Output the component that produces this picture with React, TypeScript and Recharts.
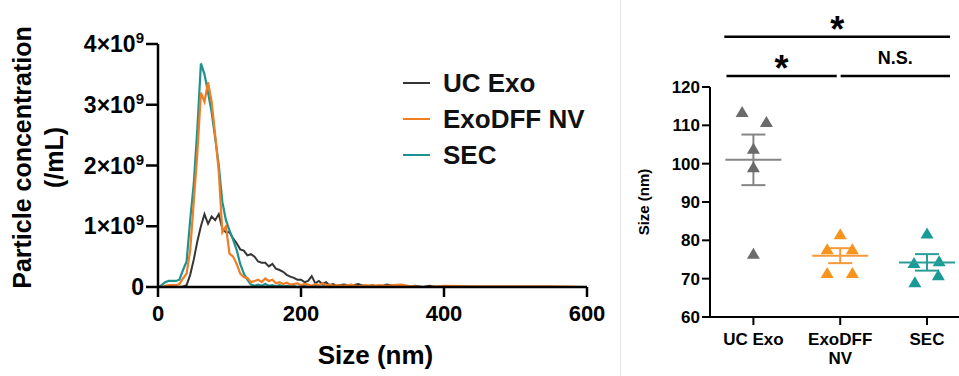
import React from 'react';
import {
  LineChart, Line, XAxis, YAxis, Legend,
  ScatterChart, Scatter, ErrorBar, ReferenceLine,
} from 'recharts';

// ---------- Left panel: NTA size distribution (values in 10^9 particles/mL) ----------
const sizes = [
  0, 5, 10, 15, 20, 25, 30, 35, 40, 45, 50, 55, 60, 65, 70, 75, 80, 85, 90, 95,
  100, 105, 110, 115, 120, 125, 130, 135, 140, 145, 150, 155, 160, 165, 170, 175, 180, 185, 190, 195,
  200, 205, 210, 215, 220, 225, 230, 235, 240, 245, 250,
  260, 270, 280, 290, 300, 310, 320, 330, 340, 350, 360, 370, 380, 390, 400,
  450, 500, 550, 600,
];
const ucExo = [
  0, 0, 0, 0, 0, 0, 0, 0.01, 0.03, 0.2, 0.45, 0.75, 1.0, 1.2, 1.04, 1.16, 1.1, 1.2, 0.96, 0.9,
  0.9, 0.8, 0.72, 0.62, 0.6, 0.52, 0.54, 0.5, 0.42, 0.4, 0.4, 0.34, 0.38, 0.3, 0.28, 0.25, 0.2, 0.17, 0.15, 0.12,
  0.12, 0.08, 0.1, 0.18, 0.06, 0.1, 0.05, 0.08, 0.03, 0.05, 0.02,
  0.04, 0.02, 0.05, 0.01, 0.03, 0.0, 0.04, 0.02, 0.03, 0.01, 0.02, 0.0, 0.02, 0, 0,
  0, 0, 0, 0,
];
const exoDffNv = [
  0, 0, 0.02, 0.03, 0.03, 0.03, 0.05, 0.14, 0.22, 0.6, 1.4, 2.2, 3.2, 3.05, 3.37, 3.05, 2.5, 1.9, 0.9, 1.0,
  0.55, 0.5, 0.38, 0.22, 0.16, 0.15, 0.08, 0.1, 0.12, 0.08, 0.14, 0.1, 0.12, 0.06, 0.08, 0.05, 0.07, 0.04, 0.05, 0.06,
  0.03, 0.05, 0.04, 0.02, 0.05, 0.03, 0.06, 0.03, 0.04, 0.02, 0.03,
  0.02, 0.04, 0.01, 0.03, 0.02, 0.03, 0.02, 0.03, 0.04, 0.02, 0.01, 0, 0, 0.01, 0.02,
  0.01, 0.01, 0.01, 0,
];
const secVals = [
  0, 0.03, 0.08, 0.1, 0.1, 0.1, 0.12, 0.28, 0.42, 1.1, 1.7, 2.6, 3.68, 3.5, 3.2, 2.88, 2.45, 2.0, 1.4, 1.1,
  0.93, 0.78, 0.61, 0.38, 0.22, 0.12, 0.04, 0.02, 0.04, 0.02, 0.05, 0.02, 0.03, 0.01, 0.03, 0.01, 0.02, 0.01, 0.02, 0,
  0.01, 0.02, 0, 0.01, 0.02, 0, 0.01, 0.02, 0, 0.01, 0,
  0.01, 0, 0.01, 0, 0.01, 0, 0.01, 0.02, 0.01, 0, 0, 0, 0, 0, 0,
  0, 0, 0, 0,
];
const xTicks = [0, 200, 400, 600];
const yTicks = [0, 1, 2, 3, 4];

const seriesNames = ['UC Exo', 'ExoDFF NV', 'SEC'];
const lineColors = ['#353535', '#ee7d24', '#1f918e'];

const distRows = sizes.map((s, i) => ({ size: s, uc: ucExo[i], dff: exoDffNv[i], sec: secVals[i] }));

// ---------- Right panel: mean size (nm) ----------
const groupLabels = [['UC Exo'], ['ExoDFF', 'NV'], ['SEC']];
const ucSizes = [113.6, 111.0, 104.0, 99.2, 76.6];
const ucJitter = [-0.13, 0.15, 0, 0, 0];
const dffSizes = [81.7, 77.8, 77.8, 71.6, 71.6];
const dffJitter = [0, -0.15, 0.14, -0.15, 0.14];
const secSizes = [81.9, 74.2, 74.7, 69.2, 71.0];
const secJitter = [0, -0.15, 0.14, -0.14, 0.13];
const means = [101.0, 76.0, 74.25];
const sems = [6.6, 1.95, 2.15];
const sizeTicks = [60, 70, 80, 90, 100, 110, 120];
const pointColors = ['#6b6b6b', '#f7941d', '#1a9a96'];
const meanColors = ['#858585', '#f59a3a', '#2a9d98'];

const sigBars = [
  { x1: -0.335, x2: 2.265, y: 133.1, text: '*' },
  { x1: -0.31, x2: 0.96, y: 122.9, text: '*' },
  { x1: 1.005, x2: 2.265, y: 122.9, text: 'N.S.' },
];

const FONT = '"Liberation Sans", Arial, Helvetica, sans-serif';

const SciTick = (props: any) => {
  const { x, y, payload } = props;
  const v = payload.value;
  if (v === 0) {
    return (
      <text x={x} y={y + 8} textAnchor="end" fontSize={23} fontWeight={700} fill="#000" fontFamily={FONT}>0</text>
    );
  }
  return (
    <text x={x} y={y + 8} textAnchor="end" fontSize={23} fontWeight={700} fill="#000" fontFamily={FONT}>
      <tspan>{v}×10</tspan>
      <tspan dy={-9} fontSize={15}>9</tspan>
    </text>
  );
};

const SizeTick = (props: any) => {
  const { x, y, payload } = props;
  return (
    <text x={x} y={y + 19} textAnchor="middle" fontSize={22} fontWeight={700} fill="#000" fontFamily={FONT}>
      {payload.value}
    </text>
  );
};

const NmTick = (props: any) => {
  const { x, y, payload } = props;
  return (
    <text x={x} y={y + 6} textAnchor="end" fontSize={17} fontWeight={700} fill="#000" fontFamily={FONT}>
      {payload.value}
    </text>
  );
};

const LeftYTitle = (props: any) => {
  const vb = props.viewBox || { y: 44, height: 243 };
  const cy = vb.y + vb.height / 2 - 8;
  return (
    <g fontFamily={FONT} fontWeight={700} fill="#000">
      <text transform={`translate(22,${cy}) rotate(-90)`} textAnchor="middle" dominantBaseline="central" fontSize={25}>
        Particle concentration
      </text>
      <text transform={`translate(54,${cy}) rotate(-90)`} textAnchor="middle" dominantBaseline="central" fontSize={25}>
        (/mL)
      </text>
    </g>
  );
};

const LeftXTitle = (props: any) => {
  const vb = props.viewBox || { x: 158, y: 287, width: 429 };
  return (
    <text x={vb.x + vb.width / 2 + 3} y={vb.y + 68} textAnchor="middle" dominantBaseline="central"
      fontSize={26} fontWeight={700} fill="#000" fontFamily={FONT}>
      Size (nm)
    </text>
  );
};

const LegendContent = () => (
  <div style={{ fontFamily: FONT }}>
    {seriesNames.map((n, i) => (
      <div key={n} style={{ display: 'flex', alignItems: 'center', height: 36 }}>
        <div style={{ width: 27, height: 2, background: lineColors[i], marginRight: 13 }} />
        <span style={{ fontSize: 26, fontWeight: 700, color: '#111', lineHeight: '30px' }}>{n}</span>
      </div>
    ))}
  </div>
);

const GroupTick = (props: any) => {
  const { x, y, payload } = props;
  const lines = groupLabels[payload.value] || [];
  return (
    <g>
      {lines.map((t, i) => (
        <text key={t} x={x} y={y + 18 + i * 19} textAnchor="middle" fontSize={17} fontWeight={700}
          fill="#000" fontFamily={FONT}>{t}</text>
      ))}
    </g>
  );
};

const RightYTitle = (props: any) => {
  const vb = props.viewBox || { y: 87, height: 230 };
  const cy = vb.y + vb.height / 2;
  return (
    <text transform={`translate(22,${cy}) rotate(-90)`} textAnchor="middle" dominantBaseline="central"
      fontSize={15} fontWeight={700} fill="#000" fontFamily={FONT}>
      Size (nm)
    </text>
  );
};

const makeTriangle = (color: string) => (props: any) => {
  const { cx, cy } = props;
  const w = 6.5;
  const h = 11;
  return (
    <polygon points={`${cx - w},${cy + h / 2} ${cx + w},${cy + h / 2} ${cx},${cy - h / 2}`} fill={color} />
  );
};

const makeMeanLine = (color: string) => (props: any) => {
  const { cx, cy } = props;
  return <line x1={cx - 28} x2={cx + 28} y1={cy} y2={cy} stroke={color} strokeWidth={2} />;
};

const sigLabel = (text: string) => (props: any) => {
  const vb = props.viewBox || {};
  const cx = vb.x1 != null ? (vb.x1 + vb.x2) / 2 : vb.x + (vb.width || 0) / 2;
  const ly = vb.y1 != null ? vb.y1 : vb.y;
  const isStar = text === '*';
  return (
    <text x={cx} y={isStar ? ly + 5 : ly - 11.5} textAnchor="middle" fontSize={isStar ? 36 : 18}
      fontWeight={700} fill="#000" fontFamily={FONT}>{text}</text>
  );
};

const groupSizes = [ucSizes, dffSizes, secSizes];
const groupJitter = [ucJitter, dffJitter, secJitter];

export default function App() {
  return (
    <div style={{ position: 'absolute', left: 0, top: 0, width: 959, height: 376, background: '#fff', overflow: 'hidden' }}>
      <div style={{ position: 'absolute', left: 0, top: 0 }}>
        <LineChart width={620} height={376} data={distRows} margin={{ top: 44, right: 33, bottom: 59, left: 0 }}>
          <XAxis dataKey="size" type="number" domain={[0, 600]} ticks={xTicks} height={30}
            tickSize={10} tickMargin={5} axisLine={{ stroke: '#000', strokeWidth: 2.5 }}
            tickLine={{ stroke: '#000', strokeWidth: 2.5 }}
            tick={<SizeTick />}
            label={{ content: LeftXTitle }} />
          <YAxis type="number" domain={[0, 4]} ticks={yTicks} width={158} tickSize={12}
            axisLine={{ stroke: '#000', strokeWidth: 2.5 }} tickLine={{ stroke: '#000', strokeWidth: 2.5 }}
            tick={<SciTick />} label={{ content: LeftYTitle }} />
          <Legend layout="vertical" align="center" verticalAlign="middle" content={LegendContent}
            wrapperStyle={{ left: 403, top: 65, width: 210, bottom: 'auto', right: 'auto' }} />
          <Line dataKey="uc" stroke={lineColors[0]} strokeWidth={2} dot={false} isAnimationActive={false} />
          <Line dataKey="sec" stroke={lineColors[2]} strokeWidth={2.2} dot={false} isAnimationActive={false} />
          <Line dataKey="dff" stroke={lineColors[1]} strokeWidth={2.2} dot={false} isAnimationActive={false} />
        </LineChart>
      </div>
      <div style={{ position: 'absolute', left: 620, top: 0, width: 339, height: 376, boxSizing: 'border-box', borderLeft: '1px solid #e4e4e4' }}>
        <ScatterChart width={339} height={376} margin={{ top: 87, right: 0, bottom: 19, left: -1 }}>
          <XAxis dataKey="x" type="number" domain={[-0.5, 2.38]} ticks={[0, 1, 2]} allowDataOverflow
            height={40} tickSize={8} axisLine={{ stroke: '#000', strokeWidth: 2 }}
            tickLine={{ stroke: '#000', strokeWidth: 2 }} tick={<GroupTick />} />
          <YAxis dataKey="y" type="number" domain={[60, 120]} ticks={sizeTicks} width={90} tickSize={8}
            axisLine={{ stroke: '#000', strokeWidth: 2 }} tickLine={{ stroke: '#000', strokeWidth: 2 }}
            tick={<NmTick />}
            label={{ content: RightYTitle }} />
          {groupSizes.map((vals, g) => (
            <Scatter key={`pts${g}`} data={vals.map((v, i) => ({ x: g + groupJitter[g][i], y: v }))}
              shape={makeTriangle(pointColors[g])} isAnimationActive={false} />
          ))}
          {means.map((m, g) => (
            <Scatter key={`mean${g}`} data={[{ x: g, y: m, e: sems[g] }]} shape={makeMeanLine(meanColors[g])}
              isAnimationActive={false}>
              <ErrorBar dataKey="e" direction="y" width={12} stroke={meanColors[g]} strokeWidth={2} />
            </Scatter>
          ))}
          {sigBars.map((b, i) => (
            <ReferenceLine key={`sig${i}`} segment={[{ x: b.x1, y: b.y }, { x: b.x2, y: b.y }]}
              stroke="#000" strokeWidth={2.5} ifOverflow="visible" label={{ content: sigLabel(b.text) }} />
          ))}
        </ScatterChart>
      </div>
    </div>
  );
}
